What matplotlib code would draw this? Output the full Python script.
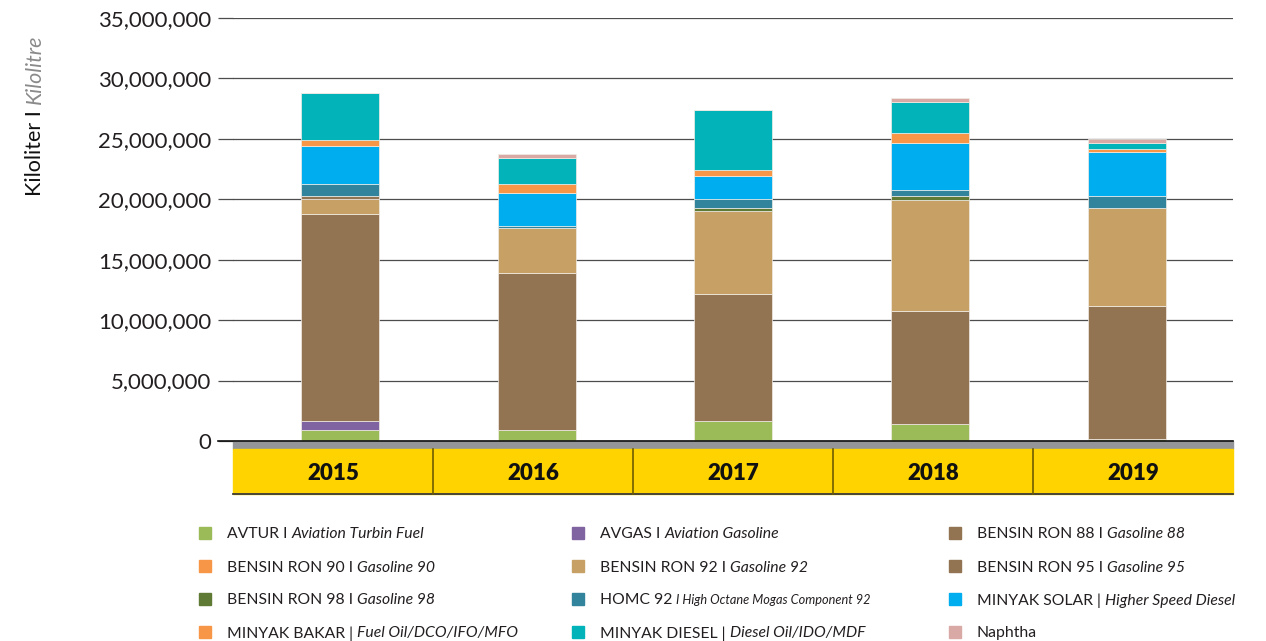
import matplotlib
matplotlib.use('Agg')
import matplotlib.pyplot as plt
from matplotlib.patches import Rectangle
from matplotlib.ticker import FuncFormatter
import numpy as np

plt.rcParams['font.family'] = ['Lato', 'DejaVu Sans']

W, H = 1266, 641

years = ['2015', '2016', '2017', '2018', '2019']

# kiloliter per product
avtur   = [910000, 910000, 1660000, 1410000, 200000]
avgas   = [750000, 0, 0, 0, 0]
ron88   = [17100000, 13000000, 10500000, 9310000, 11000000]
ron90   = [0, 0, 0, 0, 0]
ron92   = [1280000, 3730000, 6910000, 9260000, 8100000]
ron95   = [220000, 0, 0, 0, 0]
ron98   = [0, 0, 220000, 280000, 0]
homc    = [970000, 190000, 770000, 490000, 960000]
solar   = [3170000, 2710000, 1900000, 3940000, 3650000]
bakar   = [500000, 690000, 500000, 770000, 280000]
diesel  = [3930000, 2210000, 4890000, 2630000, 440000]
naphtha = [0, 270000, 0, 270000, 330000]

series = [avtur, avgas, ron88, ron90, ron92, ron95, ron98, homc, solar, bakar, diesel, naphtha]
colors = ['#9bbb59', '#8064a2', '#927352', '#f79646', '#c6a064', '#927352',
          '#5f7a35', '#31849b', '#00adef', '#f79646', '#02b4b9', '#d9a9a5']
# (upright part, italic part, small italic?)
labels = [
    ('AVTUR I', 'Aviation Turbin Fuel', False),
    ('AVGAS I', 'Aviation Gasoline', False),
    ('BENSIN RON 88 I', 'Gasoline 88', False),
    ('BENSIN RON 90 I', 'Gasoline 90', False),
    ('BENSIN RON 92 I', 'Gasoline 92', False),
    ('BENSIN RON 95 I', 'Gasoline 95', False),
    ('BENSIN RON 98 I', 'Gasoline 98', False),
    ('HOMC 92', 'I High Octane Mogas Component 92', True),
    ('MINYAK SOLAR |', 'Higher Speed Diesel', False),
    ('MINYAK BAKAR |', 'Fuel Oil/DCO/IFO/MFO', False),
    ('MINYAK DIESEL |', 'Diesel Oil/IDO/MDF', False),
    ('Naphtha', '', False),
]

txtc = '#231f20'
fig = plt.figure(figsize=(W / 100, H / 100), dpi=100)
ax = fig.add_axes([233 / W, 200 / H, 1000 / W, 423 / H])

x = np.arange(len(years))
bottom = np.zeros(len(years))
for vals, c in zip(series, colors):
    vals = np.array(vals, dtype=float)
    ax.bar(x, vals, 0.396, bottom=bottom, color=c, edgecolor='#f2ede6', linewidth=0.5, zorder=3)
    bottom += vals

ax.set_xlim(-0.541, 4.536)
ax.set_ylim(0, 35000000)
ax.set_yticks(np.arange(0, 35000001, 5000000))
ax.yaxis.set_major_formatter(FuncFormatter(lambda v, p: f'{int(v):,}'))
ax.set_xticks([])
for s in ax.spines.values():
    s.set_visible(False)
ax.yaxis.grid(True, color='#4d4d4d', linewidth=0.9)
ax.set_axisbelow(True)
ax.tick_params(axis='y', length=10.8, width=0.9, color='#4d4d4d', pad=5,
               labelsize=16, labelcolor=txtc)

# grey strip + yellow year band under the plot
hp = 423.0
ax.add_patch(Rectangle((0, -8 / hp), 1, 8 / hp, transform=ax.transAxes,
                       color='#939598', clip_on=False, zorder=2))
ax.add_patch(Rectangle((0, -53 / hp), 1, 45 / hp, transform=ax.transAxes,
                       color='#fed300', clip_on=False, zorder=2))
ax.plot([0, 1], [-53 / hp, -53 / hp], transform=ax.transAxes, color='#3a3a3a',
        lw=1.3, clip_on=False, zorder=4)
ax.plot([-15 / 1000, 1], [0, 0], transform=ax.transAxes, color='#111111',
        lw=1.2, clip_on=False, zorder=4)
for i in range(1, 5):
    ax.plot([i / 5, i / 5], [-53 / hp, -8 / hp], transform=ax.transAxes,
            color='#6e5d00', lw=1.2, clip_on=False, zorder=4)
for i, yr in enumerate(years):
    ax.text((i + 0.5) / 5, -32 / hp, yr, transform=ax.transAxes, ha='center',
            va='center', fontsize=16, fontweight='heavy', color='#111111')

r = fig.canvas.get_renderer()


def mixed(px, py, parts):
    # parts: (text, italic, size, color), drawn left to right
    for s, it, size, c in parts:
        if not s:
            continue
        t = fig.text(px / W, 1 - py / H, s, ha='left', va='center', fontsize=size,
                     style='italic' if it else 'normal', color=c)
        px += t.get_window_extent(r).width + 4


cols_x = [199, 572, 949]
rows_y = [533, 566, 599, 632]
for k, (up, itx, small) in enumerate(labels):
    cx = cols_x[k % 3]
    cy = rows_y[k // 3]
    fig.patches.append(Rectangle((cx / W, 1 - (cy + 6) / H), 12 / W, 12 / H,
                                 transform=fig.transFigure, color=colors[k], figure=fig))
    mixed(cx + 28, cy + 1.5, [(up, False, 11.3, txtc), (itx, True, 9.2 if small else 11.3, txtc)])

# rotated y label, two styles
t1 = fig.text(35 / W, 1 - 196 / H, 'Kiloliter I', rotation=90, ha='center', va='bottom',
              fontsize=15.5, color='#111111')
h1 = t1.get_window_extent(r).height
fig.text(35 / W, 1 - (196 - h1 - 6) / H, 'Kilolitre', rotation=90, ha='center', va='bottom',
         fontsize=15.5, color='#8a8a8a', style='italic')

fig.savefig('out.png', dpi=100)
